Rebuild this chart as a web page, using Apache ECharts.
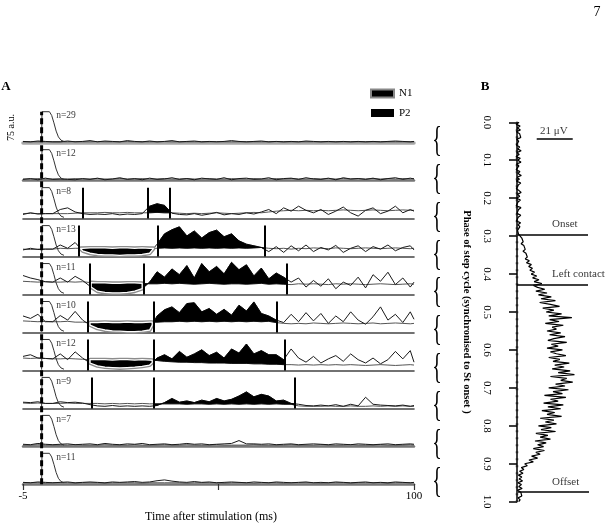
<!DOCTYPE html>
<html><head><meta charset="utf-8">
<script src="https://cdn.jsdelivr.net/npm/echarts@6/dist/echarts.min.js"></script>
<style>html,body{margin:0;padding:0;background:#fff}#c{width:608px;height:524px}</style>
</head><body><div id="c"></div>
<script>
const FONT = "'Liberation Serif', 'DejaVu Serif', serif";

// ---------- Panel A data ----------
const times = [-5,-3,-1,1,3,5,7,9,11,13, 15,17,19,21,23,25,27,29,31,33, 35,37,39,41,43,45,47,49,51,53, 55,57,59,61,63,65,67,69,71,73, 75,77,79,81,83,85,87,89,91,93, 95,97,99,100];
const rowCounts = ['n=29','n=12','n=8','n=13','n=11','n=10','n=12','n=9','n=7','n=11'];

const ctrlRow1 = [2,2,2,2,2,2,2,2.5,2,2, 2.5,2,2,2,2.5,2,2,2,2,2.5, 2,2,2,2,2,2,2.5,2,2,2, 2,2,2,2,2.5,2,2,2,2,2, 2,2,2,2,2,2,2,2,2,2, 2,2,2,2];
const stimRow1 = [3,2,4,3,2,2,4,2,3,5, 2,4,3,2,5,3,2,4,2,3, 5,2,3,4,2,3,2,3,5,3, 2,3,4,2,3,2,3,2,4,3, 2,3,2,3,2,3,2,3,2,3, 4,3,2,3];
const ctrlRow2 = [4,4,5,4,4,4,4,5,4,4, 5,4,4,5,4,4,5,4,4,5, 4,4,5,4,4,5,4,4,5,4, 4,5,4,4,5,4,5,4,4,5, 4,5,4,5,4,5,4,5,4,5, 4,5,4,5];
const stimRow2 = [3,5,2,6,3,4,3,2,5,3, 6,2,4,7,3,5,2,6,3,4, 7,3,5,2,6,4,3,7,2,5, 6,3,4,7,2,5,6,3,7,4, 3,6,2,7,4,5,3,6,2,5, 7,3,6,4];
const ctrlRow3 = [12,13,12,12,12,12,12,13,14,14, 14,15,14,14,15,14,14,14,15,14, 14,13,12,13,12,13,14,13,12,13, 14,15,14,16,18,19,20,19,20,19, 20,19,20,21,20,19,20,21,20,19, 20,21,20,20];
const stimRow3 = [10,14,11,12,12,22,26,16,12,10, 11,10,12,9,11,10,12,30,36,32, 13,10,9,12,8,11,15,9,12,10, 14,11,16,22,12,26,18,30,20,14, 22,10,18,28,14,6,20,26,12,18, 30,14,22,18];
const ctrlRow4 = [18,17,18,18,18,20,19,20,20,21, 21,21,20,21,21,20,21,20,20,21, 20,21,20,21,20,21,20,21,20,21, 20,21,22,20,19,20,18,20,19,21, 20,19,21,20,19,20,21,20,19,20, 21,20,19,20];
const stimRow4 = [16,20,17,18,18,28,20,34,14,8, 5,4,4,3,4,4,5,8,30,55, 65,72,50,62,45,58,64,48,55,38, 30,26,22,12,24,10,26,14,28,12, 22,16,27,10,20,26,12,24,18,28, 14,22,26,16];
const ctrlRow5 = [32,31,30,31,30,30,31,30,31,29, 28,28,27,27,28,28,27,26,26,27, 26,27,26,25,26,27,26,25,26,26, 25,26,27,25,26,25,24,26,25,26, 25,24,26,25,26,25,24,25,26,25, 24,25,26,25];
const stimRow5 = [46,40,36,31,30,40,30,44,34,20, 8,5,4,4,5,8,14,30,55,42, 62,48,70,40,75,55,68,50,78,60, 72,45,64,38,52,42,30,40,18,34, 20,38,14,30,22,42,16,48,32,54, 24,40,18,30];
const ctrlRow6 = [28,27,26,27,26,26,27,25,25,24, 24,25,24,24,25,24,24,25,25,26, 26,27,26,27,26,27,26,27,26,27, 26,27,26,27,24,22,21,22,21,23, 22,21,22,23,22,21,22,23,21,22, 23,22,21,22];
const stimRow6 = [40,34,44,26,26,41,30,51,30,18, 10,6,4,3,2,2,3,6,40,55, 62,48,70,72,50,58,44,56,42,66, 52,74,46,40,30,24,44,26,48,28, 46,22,40,26,50,30,20,38,62,30, 44,24,50,32];
const ctrlRow7 = [30,29,30,29,28,28,29,28,27,26, 26,26,25,26,26,25,26,25,24,22, 21,20,20,19,19,18,18,18,17,17, 17,16,16,15,15,14,14,13,14,13, 14,13,14,13,14,13,12,13,14,13, 12,13,14,13];
const stimRow7 = [34,38,30,29,28,40,26,45,30,18, 11,8,7,6,7,8,10,13,30,38, 28,46,32,40,50,36,44,30,52,42, 64,40,48,38,38,26,52,30,20,34, 18,28,36,22,40,26,18,30,16,26, 46,28,48,20];
const ctrlRow8 = [13,12,13,12,12,12,13,12,12,12, 12,11,12,11,12,11,12,11,11,11, 11,11,10,11,11,10,11,10,11,10, 11,10,11,10,11,10,10,6,5,5, 5,6,5,5,6,5,5,6,5,6, 5,6,5,5];
const stimRow8 = [15,14,16,12,12,16,14,15,13,9, 6,5,7,5,6,5,6,5,7,14, 24,15,18,14,20,16,24,18,22,30, 40,28,34,30,18,20,12,10,7,6, 8,6,9,5,10,6,27,10,8,7, 6,8,5,7];
const ctrlRow9 = [3,3,4,3,3,3,3,4,3,3, 3,4,3,3,3,4,3,3,3,4, 3,3,4,3,3,3,4,3,3,3, 3,4,3,3,3,3,4,3,3,3, 4,3,3,3,4,3,3,3,4,3, 3,3,4,3];
const stimRow9 = [5,4,7,5,4,5,6,4,5,6, 4,7,5,4,6,5,7,4,5,6, 4,5,7,5,6,4,5,6,7,14, 6,6,5,6,4,5,6,4,5,6, 5,4,6,5,4,6,5,4,5,6, 4,5,6,5];
const ctrlRow10 = [3,3,3,2,3,3,3,2,3,3, 3,2,3,3,3,3,2,3,3,3, 3,3,2,3,3,3,3,2,3,3, 3,2,3,3,3,2,3,3,3,3, 2,3,3,3,2,3,3,3,3,2, 3,3,3,3];
const stimRow10 = [4,3,5,4,3,4,5,3,4,5, 4,3,5,4,5,6,4,5,8,10, 7,5,4,6,4,5,3,4,5,4, 3,5,4,3,5,4,3,4,5,3, 4,3,5,4,3,4,5,3,4,3, 5,4,3,4];

const ctrlRows = [ctrlRow1,ctrlRow2,ctrlRow3,ctrlRow4,ctrlRow5,ctrlRow6,ctrlRow7,ctrlRow8,ctrlRow9,ctrlRow10];
const stimRows = [stimRow1,stimRow2,stimRow3,stimRow4,stimRow5,stimRow6,stimRow7,stimRow8,stimRow9,stimRow10];

// stimulation artifact (ms, a.u.)
const artifactTimes = [0, 0.1, 2.1, 2.7, 3.3, 3.9, 4.5, 5.2, 6.0];
const artifactValues = [2, 75, 75, 66, 48, 28, 14, 6, 3];

// window markers (ms) and response windows
const markerTimes = [[], [], [11.1, 28.5, 34.5], [10.0, 31.2, 60.0], [12.8, 27.3, 65.8], [12.5, 30.0, 63.1], [12.5, 30.0, 65.3], [13.4, 30.2, 68.0], [], []];
const n1Windows = [null, null, null, [10.5, 30.0], [13.3, 27.0], [13.0, 29.7], [13.0, 29.7], null, null, null];
const p2Windows = [null, null, [28.5, 34.5], [31.2, 60.0], [27.3, 65.8], [30.0, 63.1], [30.0, 65.3], [30.2, 68.0], null, null];
const markerHeight = 75;   // a.u.
const scaleBarAU = 75;

// ---------- Panel B data ----------
const phaseTicks = ['0.0','0.1','0.2','0.3','0.4','0.5','0.6','0.7','0.8','0.9','1.0'];
const emgValues = [
 1.2,-0.5,1.8,0.2,2.0,-0.3,1.5,0.6,2.2,-0.2,
 1.0,2.1,-0.4,1.6,0.3,2.4,0.0,1.3,-0.6,1.9,
 0.4,2.3,-0.2,1.1,2.0,-0.5,1.7,0.5,2.5,0.1,
 1.4,-0.3,2.2,0.8,1.9,-0.4,1.2,2.4,0.2,1.6,
 -0.2,2.0,0.6,1.5,-0.5,2.3,0.9,1.8,0.0,2.2,
 0.7,1.4,-0.3,2.1,0.5,1.7,2.5,0.3,1.2,0.9,
 1.5,2.8,1.9,3.6,2.4,4.0,3.0,4.8,3.5,5.2,
 4.1,6.0,4.8,7.2,5.5,8.4,6.8,9.0,7.5,10.2,
 8.3,11.5,9.1,12.8,10.0,14.5,9.6,12.0,16.2,11.0,
 17.5,12.5,20.0,14.0,22.4,13.2,19.5,24.8,15.0,21.5,
 17.0,26.0,18.5,32.0,19.0,24.5,16.5,27.0,20.5,23.0,
 17.5,25.5,19.0,28.0,21.5,18.0,29.0,20.0,24.0,17.5,
 26.5,19.5,23.0,28.5,18.5,25.0,21.0,30.5,22.0,27.5,
 20.5,31.0,24.0,33.5,19.5,29.0,25.5,32.5,22.5,28.0,
 18.5,30.0,21.0,26.5,16.0,28.5,19.5,24.0,15.5,27.0,
 18.0,25.5,14.5,22.0,17.5,26.0,13.5,21.5,16.5,23.0,
 12.5,20.0,14.0,22.5,11.0,18.0,13.5,19.5,10.5,17.0,
 12.0,15.5,9.5,16.0,11.0,13.5,8.5,12.0,7.0,9.5,
 4.5,6.0,2.5,4.0,1.5,3.5,0.8,2.8,1.2,3.2,
 0.5,2.6,1.0,3.0,0.2,2.2,1.4,2.8,0.6,1.8,
 1.0];
const phaseStep = 0.005; // bin width of the phase histogram
const eventNames = ['Onset', 'Left contact', 'Offset'];
const eventPhases = [0.297, 0.427, 0.975];
const eventLineStart = [0.6, 0.0, 0.6];
const eventLineEnd = [41.4, 41.4, 42.0];
const scaleBarUV = [11.5, 32.5];
const scaleBarPhase = 0.044;
const scaleLabel = '21 μV';
const braceCentres = [0.05,0.15,0.25,0.35,0.45,0.55,0.65,0.75,0.85,0.95];

// ---------- layout ----------
const rowTop0 = 104.7, rowH = 37.96, aLeft = 23, aWidth = 391;
const rowMax = 92;

function valueAt(arr, t) {
  for (let i = 0; i < times.length - 1; i++) {
    if (t >= times[i] && t <= times[i + 1]) {
      const f = (t - times[i]) / (times[i + 1] - times[i]);
      return arr[i] + (arr[i + 1] - arr[i]) * f;
    }
  }
  return arr[arr.length - 1];
}
function fillRenderer(r, win, kind) {
  return function (params, api) {
    const a = win[0], b = win[1];
    const c = ctrlRows[r], s = stimRows[r];
    const top = [api.coord([a, valueAt(s, a)])];
    const bot = [api.coord([a, valueAt(c, a)])];
    times.forEach((t, i) => {
      if (t > a && t < b) { top.push(api.coord([t, s[i]])); bot.push(api.coord([t, c[i]])); }
    });
    top.push(api.coord([b, valueAt(s, b)]));
    bot.push(api.coord([b, valueAt(c, b)]));
    const pts = top.concat(bot.reverse());
    if (kind === 'P2') {
      return { type: 'polygon', shape: { points: pts }, style: { fill: '#000', stroke: '#000', lineWidth: 0.6 } };
    }
    return { type: 'group', children: [
      { type: 'polygon', shape: { points: pts }, style: { fill: 'none', stroke: '#8c8c8c', lineWidth: 4, lineJoin: 'round' } },
      { type: 'polygon', shape: { points: pts }, style: { fill: '#000', stroke: '#fff', lineWidth: 1.3, lineJoin: 'round' } }
    ] };
  };
}

const grids = [], xAxes = [], yAxes = [], series = [];
for (let r = 0; r < 10; r++) {
  grids.push({ left: aLeft, width: aWidth, top: rowTop0 + r * rowH, height: rowH });
  const last = r === 9;
  xAxes.push({
    gridIndex: r, type: 'value', min: -5, max: 100,
    axisLine: { show: true, onZero: false, lineStyle: { color: r === 0 ? '#a8a8a8' : (r === 1 || r >= 8 ? '#777' : '#444'), width: r === 0 ? 3.5 : (r === 1 || r >= 8 ? 2.5 : 1.6) } },
    axisTick: { show: last, customValues: [-5, 47.5, 100], length: 6, lineStyle: { color: '#333', width: 1.2 } },
    axisLabel: { show: last, customValues: [-5, 100], margin: 7, fontFamily: FONT, fontSize: 11, color: '#000' },
    splitLine: { show: false },
    name: last ? 'Time after stimulation (ms)' : '',
    nameLocation: 'middle', nameGap: 27,
    nameTextStyle: { fontFamily: FONT, fontSize: 12, color: '#000', padding: [0, 15, 0, 0] }
  });
  yAxes.push({ gridIndex: r, type: 'value', min: 0, max: rowMax, show: false });

  series.push({
    type: 'line', xAxisIndex: r, yAxisIndex: r, showSymbol: false, silent: true, z: 2,
    data: times.map((t, i) => [t, ctrlRows[r][i]]),
    lineStyle: { color: '#555', width: 1 }
  });
  series.push({
    type: 'line', xAxisIndex: r, yAxisIndex: r, showSymbol: false, silent: true, z: 2,
    data: times.map((t, i) => [t, stimRows[r][i]]),
    lineStyle: { color: '#1a1a1a', width: 1 },
    markLine: {
      silent: true, symbol: ['none', 'none'], label: { show: false },
      lineStyle: { color: '#000', width: 2, type: 'solid' },
      data: markerTimes[r].map(t => [{ coord: [t, 0] }, { coord: [t, markerHeight] }])
    }
  });
  series.push({
    type: 'line', xAxisIndex: r, yAxisIndex: r, showSymbol: false, silent: true, z: 3,
    data: artifactTimes.map((t, i) => [t, artifactValues[i]]),
    lineStyle: { color: '#333', width: 1 }
  });
  if (n1Windows[r]) series.push({
    type: 'custom', name: 'N1', xAxisIndex: r, yAxisIndex: r, silent: true, z: 4,
    itemStyle: { color: '#000' }, data: [[n1Windows[r][0], 0]],
    renderItem: fillRenderer(r, n1Windows[r], 'N1')
  });
  if (p2Windows[r]) series.push({
    type: 'custom', name: 'P2', xAxisIndex: r, yAxisIndex: r, silent: true, z: 3,
    itemStyle: { color: '#000' }, data: [[p2Windows[r][0], 0]],
    renderItem: fillRenderer(r, p2Windows[r], 'P2')
  });
  series.push({
    type: 'scatter', xAxisIndex: r, yAxisIndex: r, silent: true, symbolSize: 0, z: 5,
    data: [[3.9, 65]],
    label: { show: true, position: 'right', distance: 0, formatter: rowCounts[r], fontFamily: FONT, fontSize: 9.5, color: '#000' }
  });
}

// Panel B grid (index 10)
grids.push({ left: 505, width: 95, top: 122.3, height: 379.4 });
xAxes.push({ gridIndex: 10, type: 'value', min: -7, max: 48.4, show: false });
yAxes.push({
  gridIndex: 10, type: 'value', inverse: true, min: 0, max: 1, interval: 0.1, position: 'left',
  axisLine: { show: true, lineStyle: { color: '#000', width: 1.5 } },
  axisTick: { show: true, inside: false, length: 8, lineStyle: { color: '#000', width: 1.5 } },
  axisLabel: { rotate: -90, margin: 13, fontFamily: FONT, fontSize: 11, color: '#000',
    formatter: (v) => phaseTicks[Math.round(v * 10)] },
  splitLine: { show: false },
  name: 'Phase of step cycle (synchronised to St onset )',
  nameLocation: 'middle', nameRotate: -90, nameGap: 33,
  nameTextStyle: { fontFamily: FONT, fontSize: 10.5, fontWeight: 'bold', color: '#000' }
});
series.push({
  type: 'line', xAxisIndex: 10, yAxisIndex: 10, showSymbol: false, silent: true, z: 1,
  data: [[0, 0], [0, 1]],
  lineStyle: { color: '#222', width: 2.4, type: [2, 5] },
  markLine: {
    silent: true, symbol: ['none', 'none'], label: { show: false },
    lineStyle: { color: '#000', width: 1.5, type: 'solid' },
    data: eventPhases.map((p, i) => [{ coord: [eventLineStart[i], p] }, { coord: [eventLineEnd[i], p] }])
      .concat([[{ coord: [scaleBarUV[0], scaleBarPhase] }, { coord: [scaleBarUV[1], scaleBarPhase] }]])
  }
});
series.push({
  type: 'line', xAxisIndex: 10, yAxisIndex: 10, showSymbol: false, silent: true, z: 3,
  data: emgValues.map((v, i) => [v, i * phaseStep]),
  lineStyle: { color: '#000', width: 1.2 }
});
series.push({
  type: 'scatter', xAxisIndex: 10, yAxisIndex: 10, silent: true, symbolSize: 0, z: 5,
  data: eventPhases.map((p, i) => ({ value: [20.4, p], label: { formatter: eventNames[i] } })),
  label: { show: true, position: 'top', align: 'left', distance: 5, fontFamily: FONT, fontSize: 11, color: '#000' }
});
series.push({
  type: 'scatter', xAxisIndex: 10, yAxisIndex: 10, silent: true, symbolSize: 0, z: 5,
  data: [[21.5, scaleBarPhase]],
  label: { show: true, position: 'top', distance: 2, formatter: scaleLabel, fontFamily: FONT, fontSize: 11, color: '#000' }
});

// Overlay grid over panel A (index 11): t=0 dashed line and scale bar
grids.push({ left: aLeft, width: aWidth, top: rowTop0, height: rowH * 10 });
xAxes.push({ gridIndex: 11, type: 'value', min: -5, max: 100, show: false });
yAxes.push({ gridIndex: 11, type: 'value', min: 0, max: rowMax * 10, show: false });
series.push({
  type: 'line', xAxisIndex: 11, yAxisIndex: 11, showSymbol: false, silent: true, z: 6,
  data: [[0, 0], [0, rowMax * 9 + scaleBarAU]],
  lineStyle: { color: '#000', width: 3, type: [6, 3] }
});
series.push({
  type: 'line', xAxisIndex: 11, yAxisIndex: 11, showSymbol: false, silent: true, clip: false, z: 6,
  data: [[-6.6, rowMax * 9], [-6.6, rowMax * 9 + scaleBarAU]],
  lineStyle: { color: '#000', width: 1.6 }
});

const chart = echarts.init(document.getElementById('c'), null, { renderer: 'canvas' });
chart.setOption({
  animation: false,
  backgroundColor: '#fff',
  grid: grids, xAxis: xAxes, yAxis: yAxes, series: series,
  legend: {
    left: 370, top: 87.5, padding: 0, orient: 'vertical', itemWidth: 23, itemHeight: 8, itemGap: 7.5, icon: 'rect',
    selectedMode: false,
    textStyle: { fontFamily: FONT, fontSize: 11, color: '#000', lineHeight: 12 },
    data: [
      { name: 'N1', itemStyle: { color: '#000', borderColor: '#888', borderWidth: 2 } },
      { name: 'P2', itemStyle: { color: '#000' } }
    ]
  }
});

const texts = [
  { type: 'text', x: 6, y: 87, style: { text: 'A', font: 'bold 13px ' + FONT, fill: '#000', align: 'center', verticalAlign: 'middle' } },
  { type: 'text', x: 485, y: 87, style: { text: 'B', font: 'bold 13px ' + FONT, fill: '#000', align: 'center', verticalAlign: 'middle' } },
  { type: 'text', x: 597, y: 12, style: { text: '7', font: '14px ' + FONT, fill: '#000', align: 'center', verticalAlign: 'middle' } },
  { type: 'text', x: 11.7, y: 127.5, rotation: Math.PI / 2, style: { text: '75 a.u.', font: '10px ' + FONT, fill: '#000', align: 'center', verticalAlign: 'middle' } }
];
braceCentres.forEach(p => {
  const py = chart.convertToPixel({ xAxisIndex: 10, yAxisIndex: 10 }, [0, p])[1];
  texts.push({ type: 'text', x: 437, y: py, scaleX: 0.55, style: { text: '{', font: '36px ' + FONT, fill: '#000', align: 'center', verticalAlign: 'middle' } });
});
chart.setOption({ graphic: texts });
</script>
</body></html>
